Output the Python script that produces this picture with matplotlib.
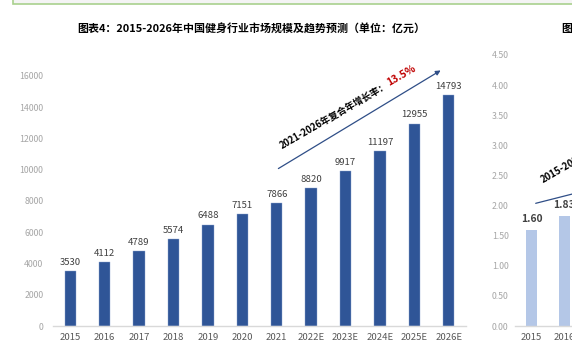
"""Recreate chart 4: China fitness market size 2015-2026 (with the cut-off neighbour chart)."""

import matplotlib

matplotlib.use("Agg")
import matplotlib.pyplot as plt
from matplotlib.patches import Rectangle

plt.rcParams["font.family"] = ["Noto Sans CJK SC", "DejaVu Sans"]

YEARS = ["2015", "2016", "2017", "2018", "2019", "2020", "2021",
         "2022E", "2023E", "2024E", "2025E", "2026E"]
MARKET_SIZE = [3530, 4112, 4789, 5574, 6488, 7151, 7866, 8820, 9917, 11197, 12955, 14793]
Y_TICKS = [0, 2000, 4000, 6000, 8000, 10000, 12000, 14000, 16000]

# neighbour chart, only the first two bars are inside the frame
NEXT_YEARS = ["2015", "2016"]
NEXT_VALUES = [1.60, 1.83]
NEXT_TICKS = [0.0, 0.5, 1.0, 1.5, 2.0, 2.5, 3.0, 3.5, 4.0, 4.5]

TITLE = "图表4：2015-2026年中国健身行业市场规模及趋势预测（单位：亿元）"
CAGR_TEXT = "2021-2026年复合年增长率："
CAGR_VALUE = "13.5%"

W, H = 572, 347


def fx(px):
    return px / W


def fy(py):
    return 1 - py / H


def style_axis(ax, pad_y):
    for side in ("top", "right", "left"):
        ax.spines[side].set_visible(False)
    ax.spines["bottom"].set_color("#d9d9d9")
    ax.spines["bottom"].set_linewidth(1.0)
    ax.tick_params(axis="both", length=0)
    ax.tick_params(axis="y", pad=pad_y, labelsize=6.3, labelcolor="#a6a6a6")
    ax.tick_params(axis="x", pad=5.0, labelsize=6.9, labelcolor="#595959")


fig = plt.figure(figsize=(W / 100, H / 100), dpi=100)

# green framed box at the top edge
fig.patches.append(Rectangle((fx(13), fy(4)), 1.0, 0.2, transform=fig.transFigure,
                             facecolor="#f4f4f4", edgecolor="#a9d18e", linewidth=1.2))

# main chart
ax = fig.add_axes([fx(53), fy(326), fx(466) - fx(53), fy(76) - fy(326)])
x = range(len(YEARS))
ax.bar(x, MARKET_SIZE, width=0.33, color="#2f5597", edgecolor="#8fa6cf", linewidth=0.3)
for xi, v in zip(x, MARKET_SIZE):
    ax.annotate(f"{v}", (xi, v), textcoords="offset points", xytext=(0, 3),
                ha="center", va="bottom", fontsize=6.9, color="#404040", fontweight="medium")
ax.set_xlim(-0.5, len(YEARS) - 0.5)
ax.set_ylim(0, 16000)
ax.set_yticks(Y_TICKS)
ax.set_xticks(list(x))
ax.set_xticklabels(YEARS)
style_axis(ax, pad_y=7)

fig.text(fx(251), fy(29), TITLE, ha="center", va="center", fontsize=7.9,
         fontweight="bold", color="#000000")

# CAGR arrow and label
ax.annotate("", xy=(fx(443), fy(69)), xytext=(fx(276), fy(170)),
            xycoords="figure fraction", textcoords="figure fraction",
            arrowprops=dict(arrowstyle="-|>", color="#2f4e87", linewidth=0.9,
                            mutation_scale=7))
fig.text(fx(282), fy(149), CAGR_TEXT, rotation=30, rotation_mode="anchor",
         ha="left", va="baseline", fontsize=6.8, fontweight="bold", color="#000000")
fig.text(fx(389), fy(86), CAGR_VALUE, rotation=30, rotation_mode="anchor",
         ha="left", va="baseline", fontsize=7.4, fontweight="bold", color="#c00000")

# neighbour chart, cut off at the right edge
ax2 = fig.add_axes([fx(515), fy(326), fx(33 * 12), fy(55) - fy(326)])
x2 = range(len(NEXT_YEARS))
ax2.bar(x2, NEXT_VALUES, width=0.32, color="#b4c7e7")
for xi, v in zip(x2, NEXT_VALUES):
    ax2.annotate(f"{v:.2f}", (xi, v), textcoords="offset points", xytext=(0, 4),
                 ha="center", va="bottom", fontsize=7.4, color="#404040", fontweight="bold")
ax2.set_xlim(-0.5, 11.5)
ax2.set_ylim(0, 4.5)
ax2.set_yticks(NEXT_TICKS)
ax2.set_yticklabels([f"{t:.2f}" for t in NEXT_TICKS])
ax2.set_xticks(list(x2))
ax2.set_xticklabels(NEXT_YEARS)
style_axis(ax2, pad_y=4.5)

ax2.annotate("", xy=(fx(600), fy(187)), xytext=(fx(533), fy(204)),
             xycoords="figure fraction", textcoords="figure fraction",
             arrowprops=dict(arrowstyle="-", color="#2f4e87", linewidth=0.9))
fig.text(fx(543), fy(183), "2015-2021年复合年增长率", rotation=30, rotation_mode="anchor",
         ha="left", va="baseline", fontsize=6.9, fontweight="bold", color="#000000")
fig.text(fx(561), fy(29), "图表5：", ha="left", va="center", fontsize=7.9,
         fontweight="bold", color="#000000")

fig.savefig("out.png", dpi=100)
